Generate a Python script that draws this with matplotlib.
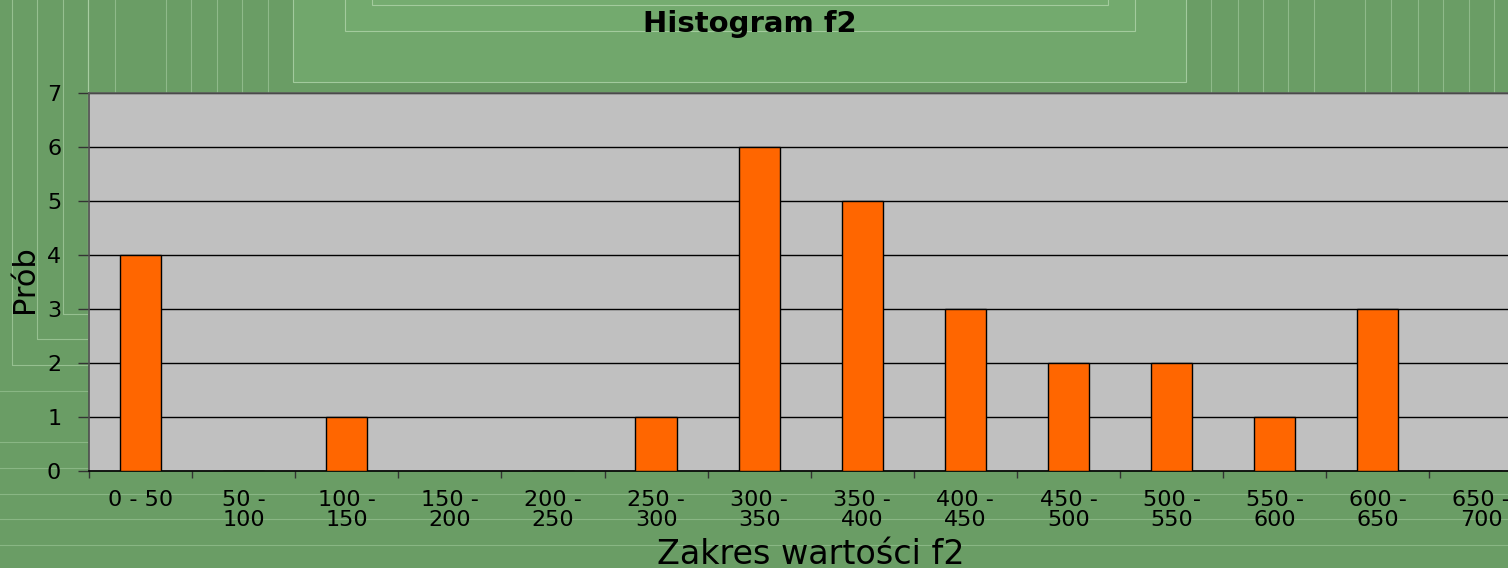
import numpy as np
import matplotlib
matplotlib.use("Agg")
import matplotlib.pyplot as plt
from matplotlib.lines import Line2D
from matplotlib.patches import Rectangle

# ---- data ----
categories = ["0 - 50", "50 - 100", "100 - 150", "150 - 200", "200 - 250", "250 - 300",
              "300 - 350", "350 - 400", "400 - 450", "450 - 500", "500 - 550",
              "550 - 600", "600 - 650", "650 - 700"]
counts = [4, 0, 1, 0, 0, 1, 6, 5, 3, 2, 2, 1, 3, 0]
tick_labels = ["0 - 50", "50 -\n100", "100 -\n150", "150 -\n200", "200 -\n250",
               "250 -\n300", "300 -\n350", "350 -\n400", "400 -\n450", "450 -\n500",
               "500 -\n550", "550 -\n600", "600 -\n650", "650 -\n700"]
y_ticks = [0, 1, 2, 3, 4, 5, 6, 7]
title = "Histogram f2"
xlabel = "Zakres wartości f2"
ylabel = "Prób"

plt.rcParams['font.family'] = ['DejaVu Sans']

W, H = 1508, 568
fig = plt.figure(figsize=(W / 100, H / 100), dpi=100)
fig.patch.set_facecolor('#6A9D65')

# ---- decorative slide background ----
light = '#A9CFA3'
def fx(px):
    return px / W
def fy(py):
    return 1 - py / H

# top-centre nested boxes
for (x0, x1, y1, fc) in [(293, 1186, 82, '#72A96D'), (345, 1135, 31, '#74AB6F'), (372, 1108, 5, '#76AD71')]:
    fig.patches.append(Rectangle((fx(x0), fy(y1)), fx(x1) - fx(x0), fy(0) - fy(y1) + 0.01,
                                 transform=fig.transFigure, facecolor=fc, edgecolor=light,
                                 linewidth=0.8, alpha=0.9, zorder=-5))
# left boxes
for (x0, y1) in [(12, 365), (37, 339), (63, 314)]:
    fig.patches.append(Rectangle((fx(x0), fy(y1)), fx(88) - fx(x0), fy(0) - fy(y1) + 0.01,
                                 transform=fig.transFigure, facecolor='none', edgecolor=light,
                                 linewidth=0.8, alpha=0.7, zorder=-5))
# faint vertical lines (top)
for xv in [115, 166, 191, 217, 242, 268, 1211, 1238, 1263, 1288, 1314, 1365, 1391,
           1418, 1443, 1469, 1494]:
    fig.lines.append(Line2D([fx(xv), fx(xv)], [fy(93), 1], transform=fig.transFigure,
                            color=light, linewidth=0.8, alpha=0.6, zorder=-5))
# faint horizontal lines (bottom)
for yh in [391, 442, 468, 494, 519, 545]:
    fig.lines.append(Line2D([0, 1], [fy(yh), fy(yh)], transform=fig.transFigure,
                            color=light, linewidth=0.8, alpha=0.5, zorder=-5))

# ---- axes ----
left, right, top, bottom = 89, 1532.5, 93, 471
ax = fig.add_axes([fx(left), fy(bottom), fx(right) - fx(left), fy(top) - fy(bottom)])
ax.set_zorder(1)
ax.set_facecolor('#C0C0C0')

x = np.arange(len(categories))
ax.bar(x, counts, width=0.4, color='#FF6600', edgecolor='black', linewidth=1.0, zorder=3)

ax.set_xlim(-0.5, len(categories) - 0.5)
ax.set_ylim(0, 7)
ax.set_yticks(y_ticks)
ax.set_yticklabels([str(v) for v in y_ticks], fontsize=16)
ax.yaxis.grid(True, color='black', linewidth=1.0)
ax.set_axisbelow(True)

ax.set_xticks(x)
ax.set_xticklabels(tick_labels, fontsize=16)
for t in ax.get_xticklabels():
    t.set_linespacing(1.0)
ax.set_xticks(np.arange(-0.5, len(categories), 1.0), minor=True)
ax.tick_params(axis='x', which='major', length=0, pad=14)
ax.tick_params(axis='x', which='minor', length=5, width=1, color='#333333', direction='out')
ax.tick_params(axis='y', length=8, width=1, color='#333333', pad=12, direction='out')

ax.spines['left'].set_color('#4D4D4D')
ax.spines['left'].set_linewidth(1.2)
ax.spines['top'].set_color('#5A5A5A')
ax.spines['top'].set_linewidth(1.2)
ax.spines['bottom'].set_color('black')
ax.spines['bottom'].set_linewidth(1.2)
ax.spines['right'].set_visible(False)

# ---- texts ----
fig.text(fx(749.5), fy(24), title, fontsize=21, fontweight='bold', ha='center', va='center')
fig.text(fx(25), fy(279), ylabel, fontsize=22, rotation=90, ha='center', va='center')
fig.text(fx(811), fy(564), xlabel, fontsize=24, ha='center', va='baseline')

fig.savefig('out.png', dpi=100, facecolor=fig.get_facecolor())
